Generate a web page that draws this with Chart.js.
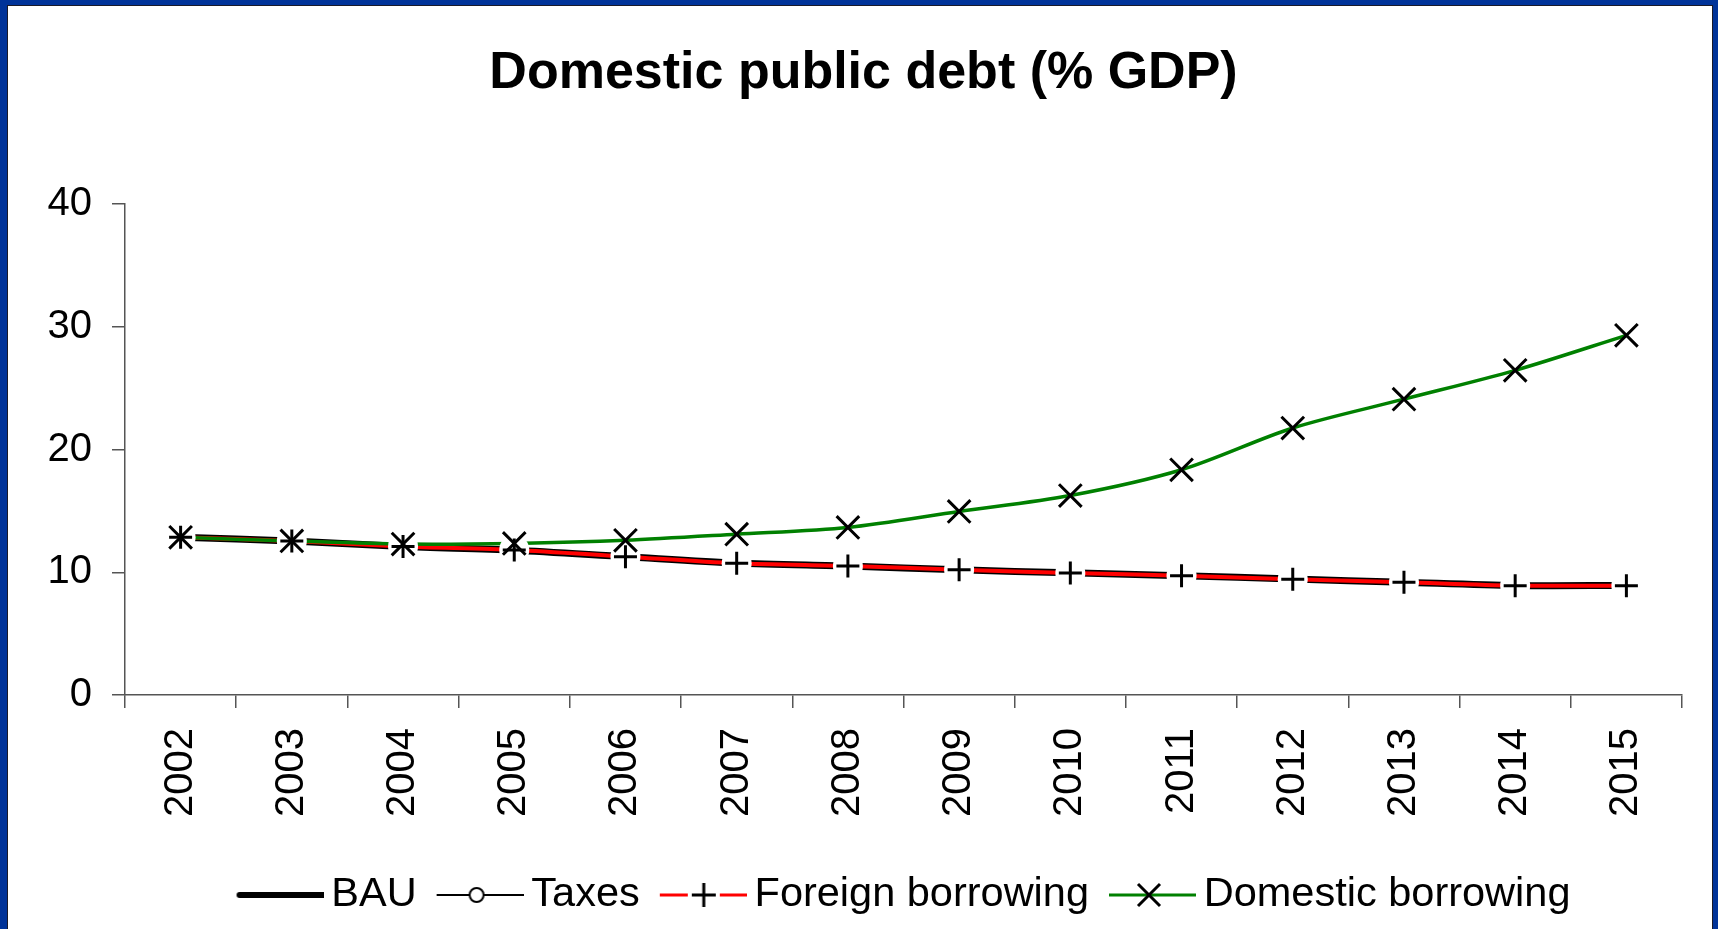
<!DOCTYPE html>
<html>
<head>
<meta charset="utf-8">
<script src="https://cdn.jsdelivr.net/npm/chart.js@4/dist/chart.umd.min.js"></script>
<style>
  html, body { margin: 0; padding: 0; }
  body { width: 1718px; height: 929px; overflow: hidden; background: #003399; position: relative; }
  #panel { position: absolute; left: 7px; top: 5px; width: 1706px; height: 940px; background: #ffffff; border: 1px solid #1a1a28; box-sizing: border-box; }
  #wrap { position: absolute; left: 0; top: 0; width: 1718px; height: 929px; }
</style>
</head>
<body>
<div id="panel"></div>
<div id="wrap"><canvas id="chart" width="1718" height="929"></canvas></div>
<script>
// ---- data ----
const years = ['2002','2003','2004','2005','2006','2007','2008','2009','2010','2011','2012','2013','2014','2015'];
const bau = [12.85, 12.55, 12.1, 11.8, 11.27, 10.75, 10.5, 10.2, 9.95, 9.72, 9.45, 9.18, 8.92, 8.92];
const taxes = [12.85, 12.55, 12.1, 11.82, 11.27, 10.73, 10.51, 10.21, 9.94, 9.72, 9.43, 9.18, 8.91, 8.91];
const foreignBorrowing = [12.85, 12.55, 12.1, 11.82, 11.27, 10.73, 10.51, 10.21, 9.94, 9.72, 9.43, 9.18, 8.91, 8.91];
const domesticBorrowing = [12.85, 12.55, 12.3, 12.35, 12.6, 13.1, 13.65, 14.95, 16.25, 18.35, 21.75, 24.1, 26.45, 29.3];
const yTicks = [0, 10, 20, 30, 40];
const seriesNames = ['BAU', 'Taxes', 'Foreign borrowing', 'Domestic borrowing'];
const titleText = 'Domestic public debt (% GDP)';

const FONT = "'Liberation Sans', Arial, Helvetica, sans-serif";
const AXIS = '#555555';
const LEGEND_BOX = 74;

// ---- legend samples (line + marker) ----
function sample(draw) {
  const c = document.createElement('canvas');
  c.width = 100; c.height = 34;
  const g = c.getContext('2d');
  g.translate(50 - LEGEND_BOX / 2, 17);
  draw(g);
  return c;
}
const legendBAU = sample(g => {
  g.strokeStyle = '#000'; g.lineWidth = 6; g.lineCap = 'round';
  g.beginPath(); g.moveTo(3, 0); g.lineTo(86, 0); g.stroke();
});
const legendTaxes = sample(g => {
  g.strokeStyle = '#000'; g.lineWidth = 2;
  g.beginPath(); g.moveTo(0, 0); g.lineTo(88, 0); g.stroke();
  g.fillStyle = '#fff';
  g.beginPath(); g.arc(40, 0, 7, 0, Math.PI * 2); g.fill(); g.stroke();
});
const legendForeign = sample(g => {
  g.strokeStyle = '#ff0000'; g.lineWidth = 3;
  g.beginPath(); g.moveTo(0, 0); g.lineTo(28, 0); g.moveTo(60, 0); g.lineTo(89, 0); g.stroke();
  g.strokeStyle = '#000'; g.lineWidth = 3;
  g.beginPath(); g.moveTo(44 - 12, 0); g.lineTo(44 + 12, 0); g.moveTo(44, -12); g.lineTo(44, 12); g.stroke();
});
const legendDomestic = sample(g => {
  g.strokeStyle = '#008000'; g.lineWidth = 3;
  g.beginPath(); g.moveTo(0, 0); g.lineTo(88, 0); g.stroke();
  g.strokeStyle = '#000'; g.lineWidth = 3;
  g.beginPath(); g.moveTo(40 - 11, -11); g.lineTo(40 + 11, 11); g.moveTo(40 - 11, 11); g.lineTo(40 + 11, -11); g.stroke();
});
const legendImages = [legendBAU, legendTaxes, legendForeign, legendDomestic];

const data = {
  labels: years,
  datasets: [
    { label: seriesNames[0], data: bau, borderColor: '#000000', borderWidth: 7, pointRadius: 0, tension: 0.3, fill: false, order: 6 },
    { label: seriesNames[2], data: foreignBorrowing, borderColor: '#ff0000', borderWidth: 4, pointRadius: 0, tension: 0.3, fill: false, order: 5 },
    { label: seriesNames[3], data: domesticBorrowing, borderColor: '#008000', borderWidth: 3.5, pointRadius: 0, tension: 0.3, fill: false, order: 4 },
    { label: seriesNames[1], data: taxes, showLine: false, pointStyle: 'circle', pointRadius: 15, pointBackgroundColor: '#ffffff', pointBorderColor: '#ffffff', pointBorderWidth: 0, order: 3 },
    { label: seriesNames[2] + ' markers', data: foreignBorrowing, showLine: false, pointStyle: 'cross', pointRadius: 11.5, pointBorderColor: '#000000', pointBorderWidth: 3, order: 2 },
    { label: seriesNames[3] + ' markers', data: domesticBorrowing, showLine: false, pointStyle: 'crossRot', pointRadius: 16, pointBorderColor: '#000000', pointBorderWidth: 3, order: 1 }
  ]
};

new Chart(document.getElementById('chart'), {
  type: 'line',
  data: data,
  options: {
    responsive: false,
    devicePixelRatio: 1,
    animation: false,
    events: [],
    layout: { padding: { left: 45, right: 36, top: 0, bottom: 3.25 } },
    plugins: {
      tooltip: { enabled: false },
      title: {
        display: true,
        text: titleText,
        color: '#000000',
        font: { family: FONT, size: 52, weight: 'bold', lineHeight: 1.2 },
        padding: { top: 42, bottom: 99.6 }
      },
      legend: {
        display: true,
        position: 'bottom',
        fullSize: false,
        align: 'center',
        onClick: null,
        labels: {
          usePointStyle: true,
          pointStyleWidth: LEGEND_BOX,
          padding: 20,
          color: '#000000',
          font: { family: FONT, size: 41.5 },
          generateLabels: function () {
            return seriesNames.map((name, i) => ({
              text: name,
              pointStyle: legendImages[i],
              fillStyle: '#000',
              strokeStyle: '#000',
              lineWidth: 0,
              hidden: false,
              fontColor: '#000000',
              datasetIndex: i
            }));
          }
        }
      }
    },
    scales: {
      x: {
        type: 'category',
        offset: true,
        afterFit: function (scale) { scale.height = 159.25; },
        grid: { offset: true, drawOnChartArea: false, drawTicks: true, tickLength: 13, color: AXIS, tickColor: AXIS, lineWidth: 1.5 },
        border: { display: true, color: AXIS, width: 1.5 },
        ticks: { autoSkip: false, minRotation: 90, maxRotation: 90, padding: 20, color: '#000000', font: { family: FONT, size: 40 } }
      },
      y: {
        min: yTicks[0],
        max: yTicks[yTicks.length - 1],
        afterFit: function (scale) { scale.width = 80; },
        afterBuildTicks: function (scale) { scale.ticks = yTicks.map(v => ({ value: v })); },
        grid: { drawOnChartArea: false, drawTicks: true, tickLength: 13, color: AXIS, tickColor: AXIS, lineWidth: 1.5 },
        border: { display: true, color: AXIS, width: 1.5 },
        ticks: { padding: 20, color: '#000000', font: { family: FONT, size: 40 } }
      }
    }
  }
});
</script>
</body>
</html>
